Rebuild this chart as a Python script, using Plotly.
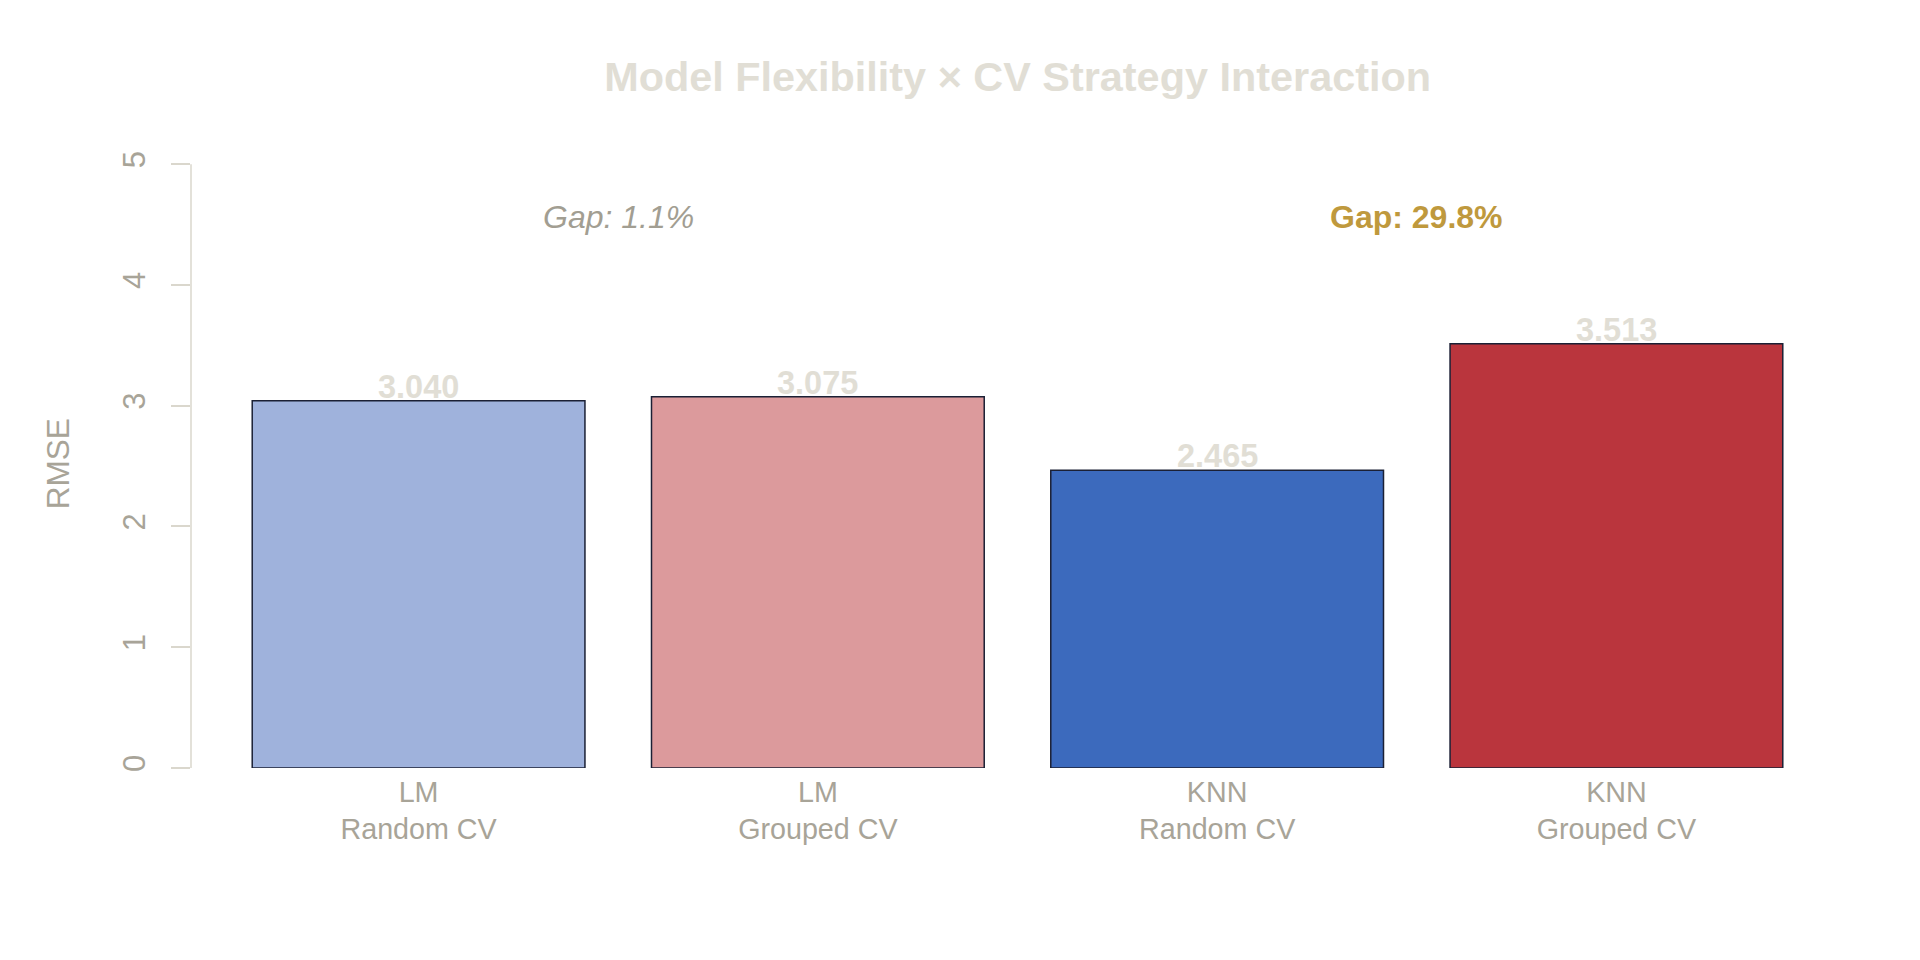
import plotly.graph_objects as go

# ---- data ----
models = ["LM", "LM", "KNN", "KNN"]
strategies = ["Random CV", "Grouped CV", "Random CV", "Grouped CV"]
rmse = [3.040, 3.075, 2.465, 3.513]
bar_colors = ["#9FB2DC", "#DC9A9C", "#3C6ABD", "#BA353D"]
x_pos = [0.7, 1.9, 3.1, 4.3]
gap_labels = ["Gap: 1.1%", "Gap: 29.8%"]
gap_x = [1.3, 3.7]
gap_y = [4.56, 4.56]
y_ticks = [0, 1, 2, 3, 4, 5]

FONT = "Liberation Sans, Arial, Helvetica, sans-serif"
GREY = "#A8A498"
PALE = "#E1DED5"
AXIS = "#DAD7CD"

tick_text = [f"{m}<br>{s}" for m, s in zip(models, strategies)]

fig = go.Figure()
fig.add_trace(go.Bar(
    x=x_pos, y=rmse, width=1.0,
    marker=dict(color=bar_colors, line=dict(color="#1B2035", width=1.5)),
    hoverinfo="skip", showlegend=False,
))

annotations = []
for xv, yv in zip(x_pos, rmse):
    annotations.append(dict(
        x=xv, y=yv, xref="x", yref="y", text=f"<b>{yv:.3f}</b>",
        showarrow=False, yanchor="bottom", xanchor="center", yshift=-6,
        font=dict(family=FONT, size=32.5, color=PALE),
    ))
annotations.append(dict(
    x=gap_x[0], y=gap_y[0], xref="x", yref="y", text=f"<i>{gap_labels[0]}</i>",
    showarrow=False, xanchor="center", yanchor="middle",
    font=dict(family=FONT, size=32, color="#A29E92"),
))
annotations.append(dict(
    x=gap_x[1], y=gap_y[1], xref="x", yref="y", text=f"<b>{gap_labels[1]}</b>",
    showarrow=False, xanchor="center", yanchor="middle",
    font=dict(family=FONT, size=32, color="#BF993D"),
))
annotations.append(dict(
    x=-0.0805, y=0.485, xref="paper", yref="paper", text="RMSE",
    showarrow=False, textangle=-90, xanchor="center", yanchor="middle",
    font=dict(family=FONT, size=31.5, color=GREY),
))

fig.update_layout(
    width=1920, height=960,
    paper_bgcolor="white", plot_bgcolor="white",
    margin=dict(l=191, r=76, t=140, b=192),
    title=dict(text="<b>Model Flexibility × CV Strategy Interaction</b>",
               x=0.53, xanchor="center", y=1 - 77 / 960, yanchor="middle",
               font=dict(family=FONT, size=41.4, color=PALE)),
    xaxis=dict(range=[0.016, 4.984], tickvals=x_pos, ticktext=tick_text,
               showgrid=False, zeroline=False, showline=False, ticks="",
               tickfont=dict(family=FONT, size=28.7, color=GREY),
               ticklabelstandoff=4, fixedrange=True),
    yaxis=dict(range=[0, 5.2], tickvals=y_ticks, showgrid=False, zeroline=False,
               showline=False, ticks="outside", ticklen=19, tickwidth=1.5,
               tickcolor=AXIS, tickangle=-90, ticklabelstandoff=14,
               tickfont=dict(family=FONT, size=31, color=GREY), fixedrange=True),
    annotations=annotations,
    shapes=[dict(type="line", xref="paper", yref="y", x0=0, x1=0, y0=0, y1=5,
                 line=dict(color=AXIS, width=1.5))],
)

fig.write_html("out.html")
